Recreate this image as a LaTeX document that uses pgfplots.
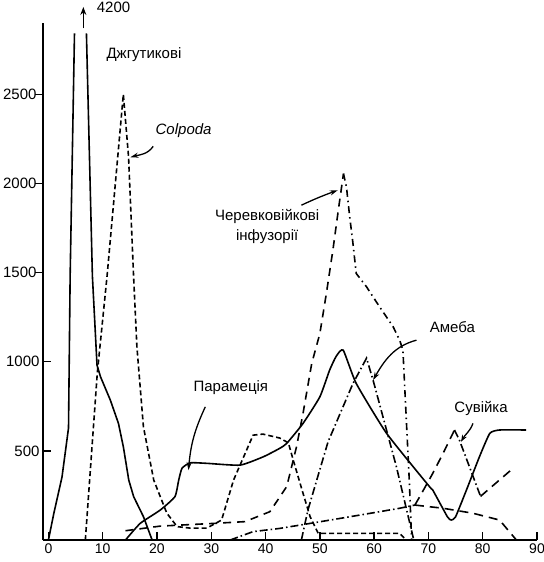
\documentclass[border=0pt]{standalone}
\usepackage{pgfplots}
\pgfplotsset{compat=1.18}
\usepackage{fontspec}
\setmainfont{Liberation Sans}
\usetikzlibrary{arrows.meta}
\begin{document}
\begin{tikzpicture}
\begin{axis}[
  scale only axis, width=494bp, height=517bp,
  xmin=-1, xmax=90, ymin=0, ymax=2900,
  axis lines=left, axis line style={-, line width=1.5bp},
  xtick={0,10,...,90}, ytick={500,1000},
  extra y ticks={1500,2000,2500},
  extra y tick style={tick align=outside, yticklabel style={xshift=5bp}},
  tick style={black, line width=1.3bp},
  major tick length=8bp,
  tick align=inside,
  xticklabel style={font=\fontsize{14bp}{16bp}\selectfont},
  yticklabel style={font=\fontsize{15bp}{17bp}\selectfont},
  /pgf/number format/assume math mode=true,
  /pgf/number format/1000 sep={},
  clip=false,
  unbounded coords=jump,
  every axis plot/.append style={line width=1.6bp, black},
]
% Dzhgutykovi (flagellates)
\addplot[solid] coordinates {(0,0) (1,150) (2.5,353) (3.7,628) (4.0,1480) (4.8,2842) (5.9,nan) (7.0,2842) (8.1,1480) (8.95,981) (9.6,915) (11.4,785) (12.9,654) (13.8,523) (14.8,336) (15.7,243) (17.5,131) (19.1,0)};
% Colpoda
\addplot[dash pattern=on 5bp off 3bp] coordinates {(6.8,0) (9.0,936) (10.8,1480) (13.8,2500) (14.76,2149) (15.7,1470) (16.3,1083) (17.5,635) (19.4,336) (21.8,151) (23.7,75) (26,67) (29.2,67) (31.9,112) (34.1,336) (36.5,504) (37.7,588) (39.5,594) (42.6,572) (44.2,545) (45.1,448) (46.9,262) (48.2,131) (49.7,37) (64.7,37) (65.9,0)};
% Hypotrichs left
\addplot[dash pattern=on 8bp off 6bp] coordinates {(14.2,52) (20.6,78) (30.4,93) (36.2,103) (40.8,159) (43.9,300) (45.7,523) (46.9,710) (48.5,990) (50,1158) (51.2,1383) (52.4,1626) (53.4,1850) (54.35,2055)};
% Hypotrichs right
\addplot[dash pattern=on 7bp off 4bp on 1.5bp off 4bp] coordinates {(54.35,2055) (54.9,1980) (55.5,1812) (56.1,1663) (56.7,1495) (58.6,1420) (61,1308) (63.5,1196) (64.7,1121) (65.3,1065) (65.9,691) (66.5,318) (66.9,0)};
% Amoeba
\addplot[dash pattern=on 8bp off 3bp on 1.5bp off 3bp] coordinates {(46.6,0) (47.8,168) (51.5,550) (56.1,878) (58.6,1020) (59.8,897) (64.1,411) (67.3,0)};
% Vorticella low part
\addplot[dash pattern=on 8bp off 3bp on 1.5bp off 3bp] coordinates {(33.5,0) (37.7,47) (42.6,65) (48.2,93) (57.4,140) (64.7,178) (67.5,196)};
% Vorticella rise
\addplot[dash pattern=on 9bp off 6bp] coordinates {(67.5,196) (68.4,243) (70.8,374) (72.7,486) (74.8,617)};
% Vorticella fall
\addplot[dash pattern=on 8bp off 3bp on 1.5bp off 3bp] coordinates {(74.8,617) (75.7,561) (79.6,245)};
% Vorticella rise again
\addplot[dash pattern=on 9bp off 6bp] coordinates {(79.6,245) (85.2,392)};
% descending dashed
\addplot[dash pattern=on 9bp off 6bp] coordinates {(67.5,196) (72.7,178) (78.2,150) (83.1,112) (86.2,0)};
% Paramecia
\addplot[solid, smooth, tension=0.3] coordinates {(14.2,0) (16.9,93) (20.6,168) (23.3,243) (24,336) (24.6,402) (26.1,433) (29.2,430) (35.3,420) (39.6,467) (42.6,514) (43.9,542) (46.9,654) (50,803) (51.8,953) (53,1030) (54.3,1065) (56.7,878) (62.3,598) (70.2,299) (70.8,280) (73.5,130) (74.2,112) (75,130) (77,280) (79.4,467) (81.3,598) (83.1,617) (88,617)};

% labels
\node[font=\fontsize{15bp}{17bp}\selectfont] at (axis cs:17.6,2724) {Джгутикові};
\node[font=\fontsize{15bp}{17bp}\selectfont\itshape] at (axis cs:24.9,2298) {Colpoda};
\node[font=\fontsize{15bp}{17bp}\selectfont, align=center, inner sep=0pt] at (axis cs:40.3,1757) {Черевковійкові\\[3bp]інфузорії};
\node[font=\fontsize{15bp}{17bp}\selectfont] at (axis cs:33.6,852) {Парамеція};
\node[font=\fontsize{15bp}{17bp}\selectfont] at (axis cs:74.4,1194) {Амеба};
\node[font=\fontsize{15bp}{17bp}\selectfont] at (axis cs:79.7,740) {Сувійка};
\node[font=\fontsize{15bp}{17bp}\selectfont] at (axis cs:12.0,2990) {4200};

% arrows
\draw[line width=1.3bp, -{Stealth[length=8bp,width=6bp]}] (axis cs:6.43,2870) -- (axis cs:6.43,2990);
\draw[line width=1.3bp, -{Stealth[length=8bp,width=5bp]}] (axis cs:19.3,2208) to[out=235,in=15] (axis cs:15.1,2147);
\draw[line width=1.3bp, -{Stealth[length=8bp,width=5bp]}] (axis cs:46.6,1878) to[out=25,in=200] (axis cs:53.3,1962);
\draw[line width=1.3bp, -{Stealth[length=8bp,width=5bp]}] (axis cs:28.9,747) to[out=245,in=85] (axis cs:25.8,392);
\draw[line width=1.3bp, -{Stealth[length=8bp,width=5bp]}] (axis cs:67.8,1121) to[out=195,in=60] (axis cs:59.8,897);
\draw[line width=1.3bp, -{Stealth[length=7bp,width=5bp]}] (axis cs:78.2,654) to[out=250,in=60] (axis cs:76,551);
\end{axis}
\pgfresetboundingbox
\useasboundingbox (-43bp,-22bp) rectangle (501bp,540bp);
\end{tikzpicture}
\end{document}
